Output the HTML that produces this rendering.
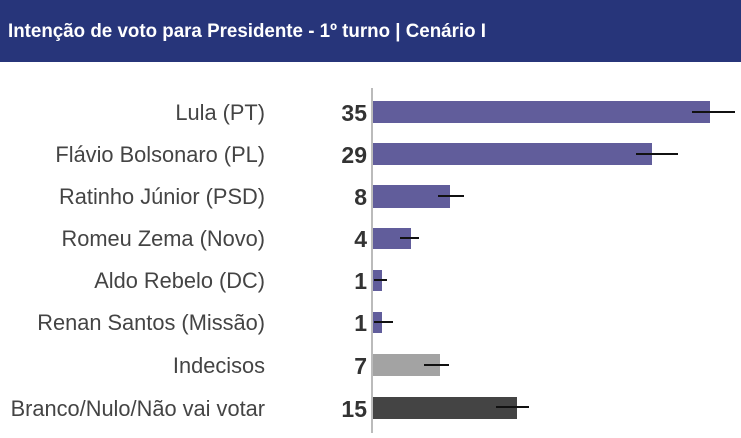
<!DOCTYPE html>
<html><head><meta charset="utf-8"><style>
html,body{margin:0;padding:0;background:#fff;width:741px;height:438px;overflow:hidden}
svg{display:block}
</style></head><body>
<svg width="741" height="438" xmlns="http://www.w3.org/2000/svg">
<rect x="0" y="0" width="741" height="62" fill="#27357a"/>
<text x="8" y="37" fill="#fff" font-family="Liberation Sans Narrow, Liberation Sans, sans-serif" font-weight="bold" font-size="19" textLength="478" lengthAdjust="spacingAndGlyphs">Intenção de voto para Presidente - 1º turno | Cenário I</text>
<line x1="372" y1="88" x2="372" y2="433" stroke="#bbb" stroke-width="2"/>
<g font-family="Liberation Sans, sans-serif" font-size="21.8" fill="#444" text-anchor="end">
<text x="265" y="120">Lula (PT)</text>
<text x="265" y="162">Flávio Bolsonaro (PL)</text>
<text x="265" y="204">Ratinho Júnior (PSD)</text>
<text x="265" y="246">Romeu Zema (Novo)</text>
<text x="265" y="288">Aldo Rebelo (DC)</text>
<text x="265" y="330">Renan Santos (Missão)</text>
<text x="265" y="373">Indecisos</text>
<text x="265" y="416">Branco/Nulo/Não vai votar</text>
</g>
<g font-family="Liberation Sans, sans-serif" font-size="23" font-weight="bold" fill="#333" text-anchor="end">
<text x="367" y="121">35</text>
<text x="367" y="163">29</text>
<text x="367" y="205">8</text>
<text x="367" y="247">4</text>
<text x="367" y="289">1</text>
<text x="367" y="331">1</text>
<text x="367" y="374">7</text>
<text x="367" y="417">15</text>
</g>
<g fill="#615d9b">
<rect x="373" y="101" width="337" height="22"/>
<rect x="373" y="143" width="279" height="22"/>
<rect x="373" y="185" width="77" height="23"/>
<rect x="373" y="228" width="38" height="21"/>
<rect x="373" y="270" width="9" height="21"/>
<rect x="373" y="312" width="9" height="21"/>
</g>
<rect x="373" y="354" width="67" height="22" fill="#a3a3a3"/>
<rect x="373" y="397" width="144" height="22" fill="#444444"/>
<g stroke="#111" stroke-width="2">
<line x1="692" y1="112" x2="735" y2="112"/>
<line x1="636" y1="154" x2="678" y2="154"/>
<line x1="438" y1="196" x2="464" y2="196"/>
<line x1="400" y1="238" x2="419" y2="238"/>
<line x1="374" y1="280" x2="387" y2="280"/>
<line x1="374" y1="322" x2="393" y2="322"/>
<line x1="424" y1="365" x2="449" y2="365"/>
<line x1="496" y1="407" x2="529" y2="407"/>
</g>
</svg>
</body></html>
